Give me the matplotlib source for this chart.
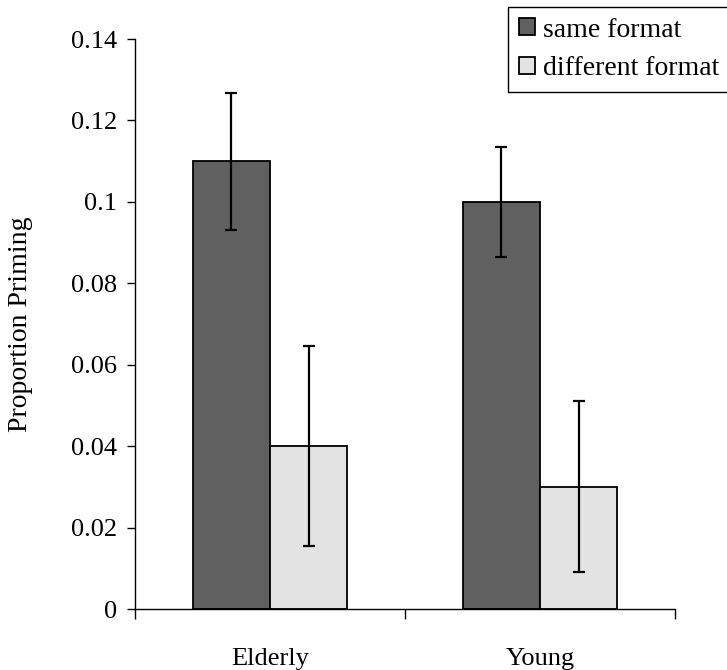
import matplotlib
matplotlib.use('Agg')
import matplotlib.pyplot as plt
from matplotlib.patches import Patch
import numpy as np

groups = ['Elderly', 'Young']
series = ['same format', 'different format']
values = {
  'same format': [0.11, 0.10],
  'different format': [0.04, 0.03],
}
errors = {
  'same format': [0.0168, 0.0135],
  'different format': [0.0245, 0.021],
}
colors = {'same format': '#606060', 'different format': '#e3e3e3'}
y_ticks = [0, 0.02, 0.04, 0.06, 0.08, 0.1, 0.12, 0.14]
y_tick_labels = ['0', '0.02', '0.04', '0.06', '0.08', '0.1', '0.12', '0.14']

plt.rcParams['font.family'] = ['Liberation Serif', 'DejaVu Serif']

fig = plt.figure(figsize=(7.27, 6.70), dpi=100)
ax = fig.add_axes([135/727, 1 - 609/670, 540/727, 570/670])

centers = np.arange(len(groups)) + 0.5
width = 0.287
for i, name in enumerate(series):
  offset = (i - 0.5) * width
  ax.bar(centers + offset, values[name], width, color=colors[name],
         edgecolor='black', linewidth=1.3, zorder=2)
  ax.errorbar(centers + offset, values[name], yerr=errors[name], fmt='none',
              ecolor='black', elinewidth=1.6, capsize=4.5, capthick=1.6, zorder=3)

ax.set_xlim(0, len(groups))
ax.set_ylim(0, 0.14)
ax.set_yticks(y_ticks)
ax.set_yticklabels(y_tick_labels, fontsize=19)
ax.tick_params(axis='y', direction='out', length=6, width=1, pad=7)

# boundary ticks on x, labels centered under each group
ax.set_xticks(np.arange(len(groups) + 1))
ax.set_xticklabels([])
ax.tick_params(axis='x', which='major', direction='out', length=7, width=1)
ax.set_xticks(centers, minor=True)
ax.set_xticklabels(groups, minor=True, fontsize=19)
ax.tick_params(axis='x', which='minor', length=0, pad=28)

ax.spines['top'].set_visible(False)
ax.spines['right'].set_visible(False)
ax.spines['left'].set_linewidth(1)
ax.spines['bottom'].set_linewidth(1)

ax.set_ylabel('Proportion Priming', fontsize=20)
ax.yaxis.set_label_coords(-102/540, 0.5)

handles = [Patch(facecolor=colors[n], edgecolor='black', linewidth=1.3) for n in series]
leg = fig.legend(handles, series, loc='upper left',
                 bbox_to_anchor=(508/727, 1 - 7/670), borderaxespad=0,
                 fontsize=20, handlelength=0.58, handleheight=0.58,
                 handletextpad=0.3, borderpad=0.38, labelspacing=0.5,
                 fancybox=False, framealpha=1)
leg.get_frame().set_edgecolor('black')
leg.get_frame().set_linewidth(1)

plt.savefig('out.png', dpi=100)
